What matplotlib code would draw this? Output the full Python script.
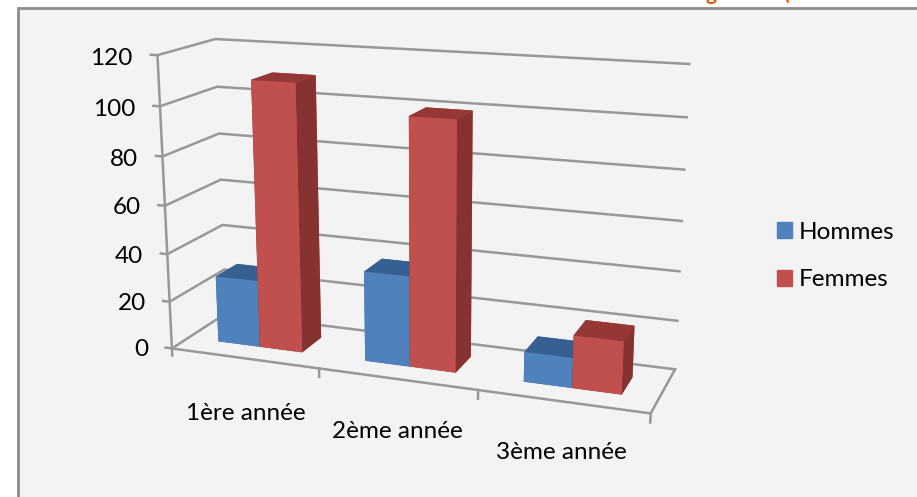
import matplotlib
matplotlib.use('Agg')
import matplotlib.pyplot as plt
from matplotlib.patches import Rectangle, Patch
from mpl_toolkits.mplot3d import proj3d

plt.rcParams['font.family'] = ['Lato', 'DejaVu Sans']

# Data
categories = ['1ère année', '2ème année', '3ème année']
hommes = [28, 37, 12]
femmes = [110, 100, 21]
yticks = [0, 20, 40, 60, 80, 100, 120]

W, H = 917, 497
GRID = '#989898'
TEXT = '#000000'

fig = plt.figure(figsize=(W/100, H/100), dpi=100, facecolor='white')

# Chart area, open to the right and bottom of the picture
fig.add_artist(Rectangle((18/W, -0.1), 1.2, 1.1 - 8/H, transform=fig.transFigure,
                         facecolor='#F3F3F3', edgecolor='#8C8C8C', lw=2, zorder=-5))

# View found by fitting the box corners of the picture
ax = fig.add_axes([0.30632, 0.29551, 0.29080, 0.53655], projection='3d', computed_zorder=False)
ax.set_proj_type('persp', focal_length=1)
ax.view_init(14.92, -69.52, 0.15)
ax.set_box_aspect((1.637, 0.39, 1), zoom=2.205)
ax.set_xlim(0, 3, view_margin=0)
ax.set_ylim(0, 1, view_margin=0)
ax.set_zlim(0, 120, view_margin=0)
ax.patch.set_alpha(0)
ax.set_axis_off()
M = ax.get_proj()


def label(x, y, z, s, ha):
    # flat text at the place of a 3d point
    px, py, _ = proj3d.proj_transform(x, y, z, M)
    ax.text2D(px, py, s, ha=ha, va='center', fontsize=17.5, color=TEXT, transform=ax.transData)


# Walls and floor
line = dict(color=GRID, lw=1.8, zorder=1, clip_on=False)
for t in yticks:
    ax.plot([-0.045, 0, 0, 3], [0, 0, 1, 1], [t, t, t, t], **line)
    label(-0.17, 0, t - 1.9, str(t), 'right')
ax.plot([0, 0], [0, 0], [-3, 120], **line)
ax.plot([0, 3, 3], [0, 0, 1], [0, 0, 0], **line)
for i in range(1, 4):
    ax.plot([i, i], [0, 0], [0, -3.5], **line)

# Bars: bottom, top, front, back, left, right
faces_h = ['#376092', '#376092', '#4F81BD', '#4F81BD', '#3A6BA5', '#3A6BA5']
faces_f = ['#953735', '#953735', '#C0504D', '#C0504D', '#853230', '#853230']
bar_w = 0.29
label_z = [-23.7, -21.7, -20.5]
for i, name in enumerate(categories):
    x0 = i + 0.21
    ax.bar3d(x0, 0.3, 0, bar_w, 0.4, hommes[i], color=faces_h, shade=False, zorder=3, clip_on=False)
    ax.bar3d(x0 + bar_w, 0.3, 0, bar_w, 0.4, femmes[i], color=faces_f, shade=False, zorder=4, clip_on=False)
    label(i + 0.5, 0, label_z[i], name, 'center')

# Legend
handles = [Patch(color='#4F81BD', label='Hommes'), Patch(color='#C0504D', label='Femmes')]
fig.legend(handles=handles, loc='center left', bbox_to_anchor=(777/W, 1 - 256/H), frameon=False,
           fontsize=17.5, labelcolor=TEXT, handlelength=0.6, handleheight=0.6,
           handletextpad=0.3, labelspacing=1.11, borderpad=0, borderaxespad=0)

# What is left of the title above the crop
fig.text(705/W, 1, 'g', color='#E8590C', fontsize=15, fontweight='bold', va='baseline')
fig.text(783/W, 1, '(', color='#E8590C', fontsize=15, fontweight='bold', va='baseline')

fig.savefig('out.png', dpi=100)
